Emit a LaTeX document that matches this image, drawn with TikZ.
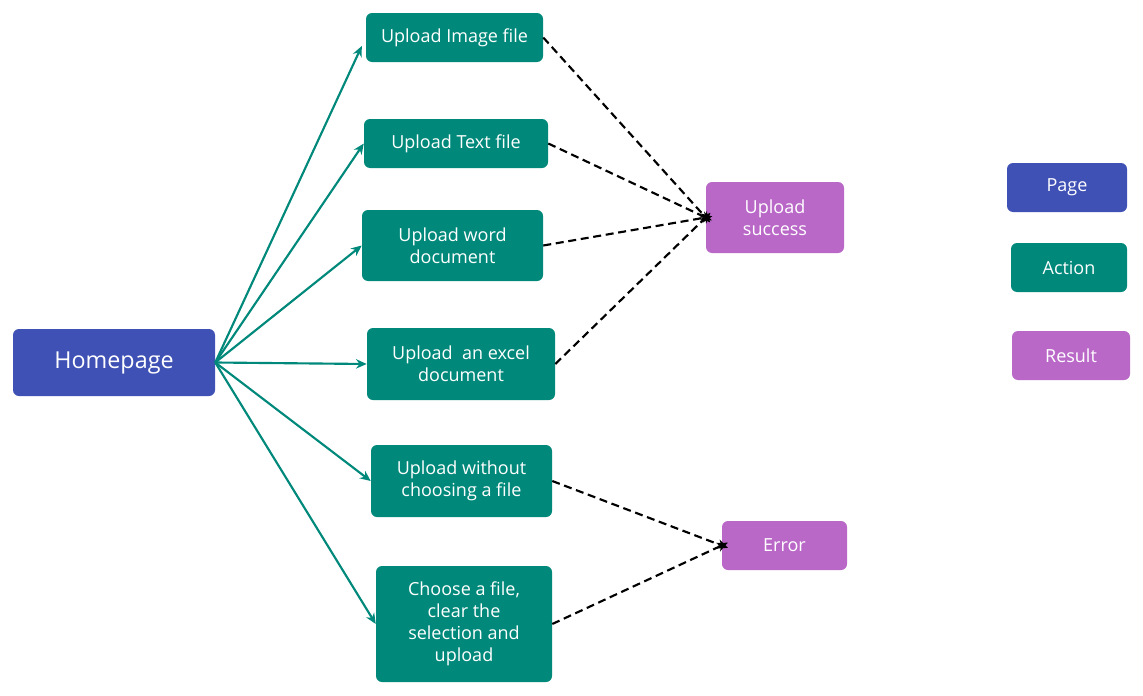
\documentclass[tikz,border=0pt]{standalone}
\usepackage{fontspec}
\setmainfont{Open Sans}
\usepackage{xcolor}
\usetikzlibrary{arrows.meta}
\definecolor{pagecol}{HTML}{3F51B5}
\definecolor{actcol}{HTML}{00897B}
\definecolor{rescol}{HTML}{BA68C8}
\tikzset{
	box/.style={rounded corners=4.5pt,text=white,align=center,inner sep=0pt,
		font=\fontsize{13.5}{16.5}\selectfont},
	pagebox/.style={box,fill=pagecol},
	actbox/.style={box,fill=actcol},
	resbox/.style={box,fill=rescol},
	go/.style={draw=actcol,line width=1.6pt,-{Stealth[length=8pt,width=7pt]}},
	ends/.style={draw=black,line width=1.6pt,dash pattern=on 6pt off 3.5pt,
		-{Stealth[length=8pt,width=7pt]},shorten >=-5pt}
}
\begin{document}
\begin{tikzpicture}[x=0.75pt,y=-0.75pt]
	\useasboundingbox (0,0) rectangle (1143,696);
	% nodes
	\node[pagebox,minimum width=151.5pt,minimum height=50.25pt,
		font=\fontsize{17.5}{21}\selectfont] (home) at (114,362.5) {Homepage};
	\node[actbox,minimum width=132.75pt,minimum height=36.75pt] (img) at (454.5,37.5) {Upload Image file};
	\node[actbox,minimum width=138pt,minimum height=36.75pt] (txt) at (456,143.5) {Upload Text file};
	\node[actbox,minimum width=135.75pt,minimum height=53.25pt] (word) at (452.5,245.5) {Upload word\\document};
	\node[actbox,minimum width=141pt,minimum height=54pt] (xls) at (461,364) {Upload\ \ an excel\\document};
	\node[actbox,minimum width=135.75pt,minimum height=54pt] (none) at (461.5,481) {Upload without\\choosing a file};
	\node[actbox,minimum width=132pt,minimum height=87pt] (clear) at (464,624) {Choose a file,\\clear the\\selection and\\upload};
	\node[resbox,minimum width=103.5pt,minimum height=53.25pt] (succ) at (775,217.5) {Upload\\success};
	\node[resbox,minimum width=93.75pt,minimum height=36.75pt] (err) at (784.5,545.5) {Error};
	% legend
	\node[pagebox,minimum width=90pt,minimum height=36.75pt] (kpage) at (1067,187.5) {Page};
	\node[actbox,minimum width=87pt,minimum height=36.75pt] (kact) at (1069,267.5) {Action};
	\node[resbox,minimum width=88.5pt,minimum height=36.75pt] (kres) at (1071,355.5) {Result};
	%
	\path
	% actions
	(home.east) edge[go,shorten >=7pt] (img.west)
	(home.east) edge[go] (txt.west)
	(home.east) edge[go] (word.west)
	(home.east) edge[go] (xls.west)
	(home.east) edge[go] (none.west)
	(home.east) edge[go] (clear.west)
	% results
	(img.east) edge[ends] (succ.west)
	(txt.east) edge[ends] (succ.west)
	(word.east) edge[ends] (succ.west)
	(xls.east) edge[ends] (succ.west)
	(none.east) edge[ends] (err.west)
	(clear.east) edge[ends] (err.west);
\end{tikzpicture}
\end{document}
